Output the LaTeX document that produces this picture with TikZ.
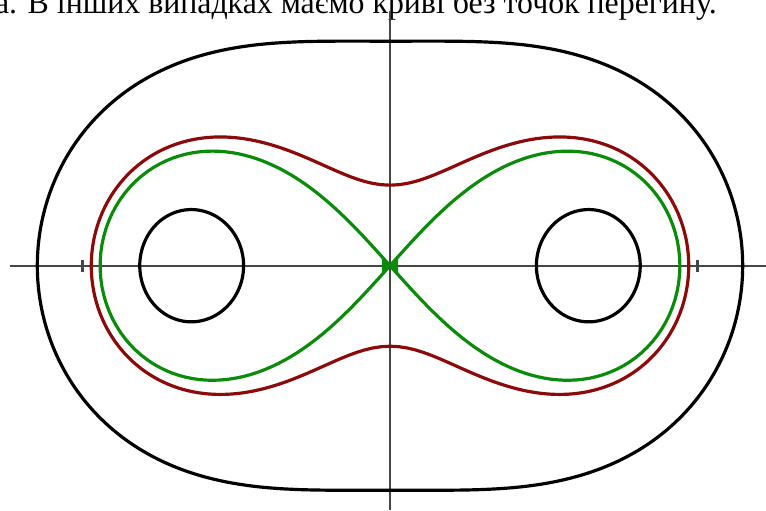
\documentclass[tikz,border=0pt]{standalone}
\usepackage{fontspec}
\setmainfont{Liberation Serif}
\definecolor{ovalred}{RGB}{140,10,10}
\definecolor{ovalgreen}{RGB}{10,140,10}
\definecolor{axisgray}{RGB}{70,70,70}
\begin{document}
\begin{tikzpicture}[
    x=5.43cm, y=6.07cm,
    axis/.style={draw=axisgray, line width=1.4pt},
    tick/.style={draw=axisgray, line width=1.6pt},
    oval/.style={line width=2.4pt, line join=round},
    declare function={
        cr(\t,\B)=sqrt(veclen(1+\B*cos(\t),\B*sin(\t)));
        ca(\t,\B)=atan2(\B*sin(\t),1+\B*cos(\t))/2;
    }]
    \clip (-1.9024,-1.0677) rectangle (1.8341,1.1594);
    % caption line, cut off by the page edge
    \node[anchor=base east, inner sep=0pt, font=\fontsize{24}{28}\selectfont] (caption)
        at (1.595,1.1026) {а. В інших випадках маємо криві без точок перегину.};
    % axes and ticks
    \coordinate (xl) at (-1.854,0);
    \coordinate (xr) at (1.834,0);
    \coordinate (yb) at (0,-1.0677);
    \coordinate (yt) at (0,1.1114);
    \draw[axis] (xl) -- (xr);
    \draw[axis] (yb) -- (yt);
    \foreach \s in {-1.5,1.5}
        \draw[tick] (\s,-0.026) -- (\s,0.026);
    % Cassini ovals with b^2 > a^2
    \foreach \B/\c in {1.96/black, 1.1236/ovalred}
        \draw[oval, \c] plot[variable=\t, domain=-179.9:179.9, samples=240]
              ({cr(\t,\B)*cos(ca(\t,\B))},{cr(\t,\B)*sin(ca(\t,\B))})
            -- plot[variable=\t, domain=-179.9:179.9, samples=240]
              ({-cr(\t,\B)*cos(ca(\t,\B))},{-cr(\t,\B)*sin(ca(\t,\B))})
            -- cycle;
    % lemniscate, with the blot at the node
    \draw[oval, ovalgreen] plot[variable=\t, domain=0:360, samples=240]
        ({sqrt(2)*cos(\t)/(1+sin(\t)^2)},{sqrt(2)*sin(\t)*cos(\t)/(1+sin(\t)^2)}) -- cycle;
    \fill[ovalgreen] (-0.04,0.035) -- (0.04,-0.035) -- (0.04,0.035) -- (-0.04,-0.035) -- cycle;
    % two inner ovals
    \foreach \sgn in {1,-1}
        \draw[oval, black] plot[variable=\t, domain=0:360, samples=160]
            ({\sgn*cr(\t,0.49)*cos(ca(\t,0.49))},{cr(\t,0.49)*sin(ca(\t,0.49))}) -- cycle;
\end{tikzpicture}
\end{document}
